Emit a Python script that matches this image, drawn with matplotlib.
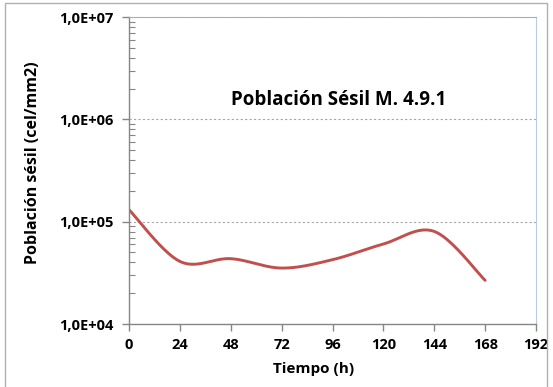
import matplotlib
matplotlib.use("Agg")
import matplotlib.pyplot as plt
from matplotlib.patches import Rectangle
from matplotlib.ticker import FixedLocator, LogLocator, NullFormatter
import numpy as np

# Data (time in h, sessile population cel/mm2)
tiempo = [0, 24, 48, 72, 96, 120, 144, 168]
poblacion = [1.31e5, 4.09e4, 4.35e4, 3.52e4, 4.25e4, 6.05e4, 8.03e4, 2.67e4]
x_ticks = [0, 24, 48, 72, 96, 120, 144, 168, 192]
y_ticks = [1e4, 1e5, 1e6, 1e7]
y_tick_labels = ["1,0E+04", "1,0E+05", "1,0E+06", "1,0E+07"]

plt.rcParams["font.family"] = ["Open Sans", "DejaVu Sans"]


def excel_smooth(x, y, n=40):
    """Bezier smoothing like Excel's smoothed line (in x, log10 y space)."""
    x = np.asarray(x, float)
    ly = np.log10(np.asarray(y, float))
    P = np.column_stack([x, ly])
    out = []
    for i in range(len(P) - 1):
        p0 = P[i - 1] if i > 0 else P[i]
        p1, p2 = P[i], P[i + 1]
        p3 = P[i + 2] if i + 2 < len(P) else P[i + 1]
        c1 = p1 + (p2 - p0) / 6.0
        c2 = p2 - (p3 - p1) / 6.0
        t = np.linspace(0, 1, n)[:, None]
        seg = ((1 - t) ** 3) * p1 + 3 * ((1 - t) ** 2) * t * c1 + 3 * (1 - t) * t ** 2 * c2 + t ** 3 * p2
        out.append(seg if i == 0 else seg[1:])
    s = np.vstack(out)
    return s[:, 0], 10 ** s[:, 1]


fig = plt.figure(figsize=(5.53, 3.87), dpi=100)
fig.patches.append(Rectangle((5 / 553, -0.1), 547 / 553 - 5 / 553, 1.1 - 3 / 387,
                             transform=fig.transFigure, fill=False,
                             edgecolor="#b0b0b0", linewidth=1.0))
ax = fig.add_axes([129 / 553, 1 - 324 / 387, 407 / 553, 307 / 387])

sx, sy = excel_smooth(tiempo, poblacion)
ax.plot(sx, sy, color="#c0504d", linewidth=2.1, solid_capstyle="round")

ax.set_yscale("log")
ax.set_xlim(0, 192)
ax.set_ylim(1e4, 1e7)

ax.xaxis.set_major_locator(FixedLocator(x_ticks))
ax.set_xticklabels([str(v) for v in x_ticks], fontsize=10.5, fontweight="bold")
ax.yaxis.set_major_locator(FixedLocator(y_ticks))
ax.set_yticklabels(y_tick_labels, fontsize=10.5, fontweight="bold")
ax.yaxis.set_minor_locator(LogLocator(base=10, subs=np.arange(2, 10)))
ax.yaxis.set_minor_formatter(NullFormatter())

ax.tick_params(axis="both", which="major", direction="out", length=5,
               color="#868686", width=1, pad=6)
ax.tick_params(axis="x", which="major", pad=5)
ax.tick_params(axis="y", which="minor", direction="in", length=4,
               color="#868686", width=0.8)

ax.grid(True, axis="y", which="major", linestyle=(0, (2, 2)),
        color="#a6a6a6", linewidth=0.8)
ax.set_axisbelow(True)

for side in ("left", "bottom"):
    ax.spines[side].set_color("#868686")
    ax.spines[side].set_linewidth(1.0)
ax.spines["right"].set_color("#b8cce4")
ax.spines["top"].set_color("#95b3d7")
ax.spines["top"].set_linestyle((0, (2, 1)))

ax.set_xlabel("Tiempo (h)", fontsize=11, fontweight="bold")
ax.xaxis.set_label_coords((314 - 129) / 407, -38 / 307)
ax.set_ylabel("Población sésil (cel/mm2)", fontsize=11.5, fontweight="bold")
ax.yaxis.set_label_coords(-88 / 407, (324 - 163) / 307)

ax.text((339 - 129) / 407, (324 - 100) / 307, "Población Sésil M. 4.9.1",
        transform=ax.transAxes, ha="center", va="center",
        fontsize=13.5, fontweight="bold")

fig.savefig("out.png", dpi=100)
